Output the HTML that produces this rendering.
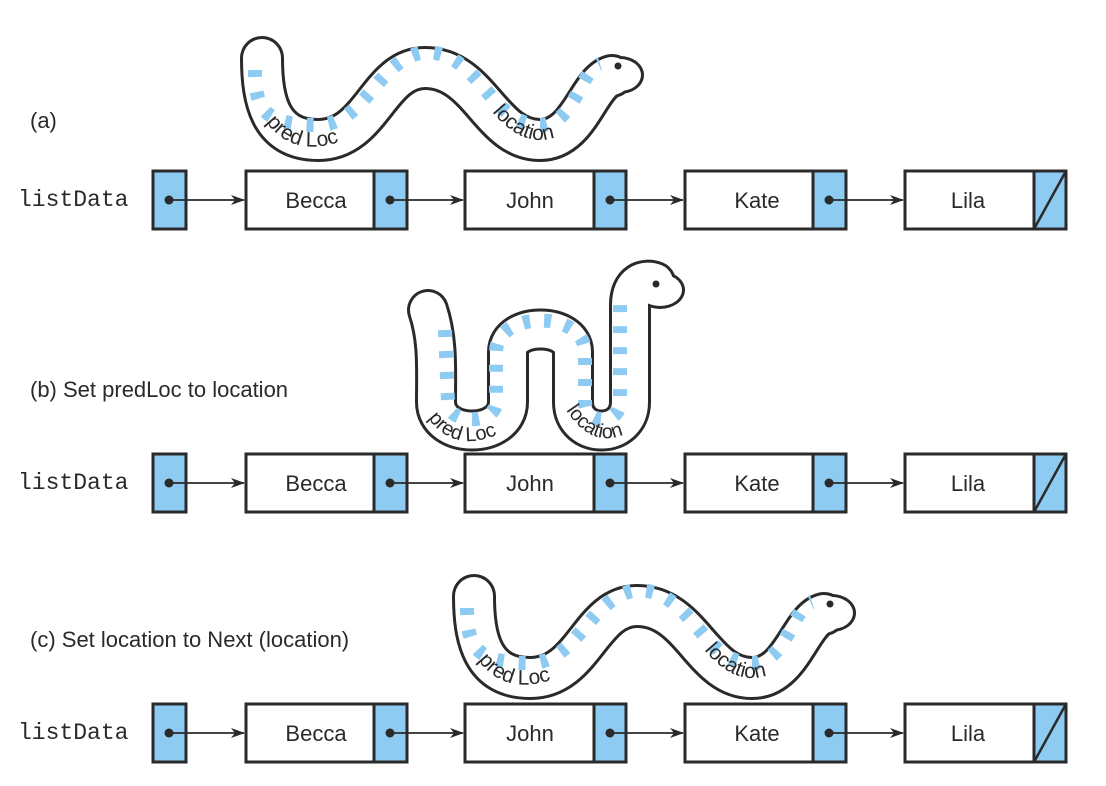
<!DOCTYPE html>
<html><head><meta charset="utf-8"><style>
html,body{margin:0;padding:0;background:#fff;}
svg{display:block;}
text{font-family:"Liberation Sans",sans-serif;fill:#2a2a2a;}
</style></head><body>
<svg width="1106" height="786" viewBox="0 0 1106 786" xmlns="http://www.w3.org/2000/svg">
<defs>
<marker id="ah" markerWidth="14" markerHeight="10" refX="13" refY="5" orient="auto" markerUnits="userSpaceOnUse">
<path d="M0,0 L14,5 L0,10 L4,5 Z" fill="#2a2a2a"/>
</marker>
<g id="row">
  <text x="18" y="36" font-family="Liberation Mono,monospace" style="font-family:'Liberation Mono',monospace" font-size="23" fill="#555">listData</text>
  <rect x="153" y="1" width="33" height="58" fill="#8ecbf2" stroke="#2a2a2a" stroke-width="3"/>
  <rect x="246" y="1" width="161" height="58" fill="#fff" stroke="#2a2a2a" stroke-width="3"/>
  <rect x="374" y="1" width="33" height="58" fill="#8ecbf2" stroke="#2a2a2a" stroke-width="3"/>
  <rect x="465" y="1" width="161" height="58" fill="#fff" stroke="#2a2a2a" stroke-width="3"/>
  <rect x="594" y="1" width="32" height="58" fill="#8ecbf2" stroke="#2a2a2a" stroke-width="3"/>
  <rect x="685" y="1" width="161" height="58" fill="#fff" stroke="#2a2a2a" stroke-width="3"/>
  <rect x="813" y="1" width="33" height="58" fill="#8ecbf2" stroke="#2a2a2a" stroke-width="3"/>
  <rect x="905" y="1" width="161" height="58" fill="#fff" stroke="#2a2a2a" stroke-width="3"/>
  <rect x="1034" y="1" width="32" height="58" fill="#8ecbf2" stroke="#2a2a2a" stroke-width="3"/>
  <line x1="1034" y1="59" x2="1066" y2="1" stroke="#2a2a2a" stroke-width="2.5"/>
  <text x="316" y="38" font-size="22" text-anchor="middle">Becca</text>
  <text x="530" y="38" font-size="22" text-anchor="middle">John</text>
  <text x="757" y="38" font-size="22" text-anchor="middle">Kate</text>
  <text x="968" y="38" font-size="22" text-anchor="middle">Lila</text>
  <g stroke="#2a2a2a" stroke-width="1.8" fill="none">
    <line x1="169" y1="30" x2="244" y2="30" marker-end="url(#ah)"/>
    <line x1="390" y1="30" x2="463" y2="30" marker-end="url(#ah)"/>
    <line x1="610" y1="30" x2="683" y2="30" marker-end="url(#ah)"/>
    <line x1="829" y1="30" x2="903" y2="30" marker-end="url(#ah)"/>
  </g>
  <g fill="#2a2a2a">
    <circle cx="169" cy="30" r="4.5"/><circle cx="390" cy="30" r="4.5"/>
    <circle cx="610" cy="30" r="4.5"/><circle cx="829" cy="30" r="4.5"/>
  </g>
</g>
<g id="wormA">
  <path d="M262,58 C262,100 270,140 318,140 C372,140 378,68 425,68 C480,68 490,140 540,140 C580,140 588,82 612,76" fill="none" stroke="#2a2a2a" stroke-width="44" stroke-linecap="round"/>
  <ellipse cx="620" cy="75" rx="24" ry="19" fill="#2a2a2a"/>
  <path d="M262,58 C262,100 270,140 318,140 C372,140 378,68 425,68 C480,68 490,140 540,140 C580,140 588,82 612,76" fill="none" stroke="#fff" stroke-width="38" stroke-linecap="round"/>
  <ellipse cx="620" cy="75" rx="21" ry="16" fill="#fff"/>
  <path d="M255,70 C255,110 265,125 318,125 C365,125 378,58 425,52 C480,52 490,125 540,125 C575,125 580,70 600,64" fill="none" stroke="#8ecbf2" stroke-width="14" stroke-dasharray="7 15"/>
  <circle cx="618" cy="66" r="3.5" fill="#2a2a2a"/>
  <path id="pa" d="M266,122 Q300,168 370,128" fill="none"/>
  <path id="la" d="M492,112 Q540,168 588,112" fill="none"/>
  <text font-size="21"><textPath href="#pa">pred Loc</textPath></text>
  <text font-size="21"><textPath href="#la">location</textPath></text>
</g>
</defs>

<text x="30" y="128" font-size="22">(a)</text>
<text x="30" y="397" font-size="22">(b) Set predLoc to location</text>
<text x="30" y="647" font-size="22">(c) Set location to Next (location)</text>

<use href="#row" x="0" y="170"/>
<use href="#row" x="0" y="453"/>
<use href="#row" x="0" y="703"/>

<use href="#wormA"/>
<use href="#wormA" transform="translate(212,538)"/>

<!-- worm b -->
<g>
  <path id="wb" d="M428,310 C438,340 436,370 436,402 C436,440 508,440 508,402 L508,352 C508,322 573,322 573,352 L573,402 C573,440 630,440 630,402 L630,305 C630,282 645,278 655,282" fill="none" stroke="#2a2a2a" stroke-width="42" stroke-linecap="round"/>
  <ellipse cx="660" cy="290" rx="25" ry="19" fill="#2a2a2a"/>
  <path d="M428,310 C438,340 436,370 436,402 C436,440 508,440 508,402 L508,352 C508,322 573,322 573,352 L573,402 C573,440 630,440 630,402 L630,305 C630,282 645,278 655,282" fill="none" stroke="#fff" stroke-width="36" stroke-linecap="round"/>
  <ellipse cx="660" cy="290" rx="22" ry="16" fill="#fff"/>
  <path d="M445,330 L448,402 C448,425 496,425 496,402 L496,352 C496,310 585,310 585,352 L585,402 C585,425 620,425 620,402 L620,305" fill="none" stroke="#8ecbf2" stroke-width="14" stroke-dasharray="7 14"/>
  <circle cx="656" cy="284" r="3.5" fill="#2a2a2a"/>
  <path id="pb" d="M428,418 Q460,462 520,422" fill="none"/>
  <path id="lb" d="M566,410 Q600,462 648,418" fill="none"/>
  <text font-size="20"><textPath href="#pb">pred Loc</textPath></text>
  <text font-size="20"><textPath href="#lb">location</textPath></text>
</g>
</svg>
</body></html>
